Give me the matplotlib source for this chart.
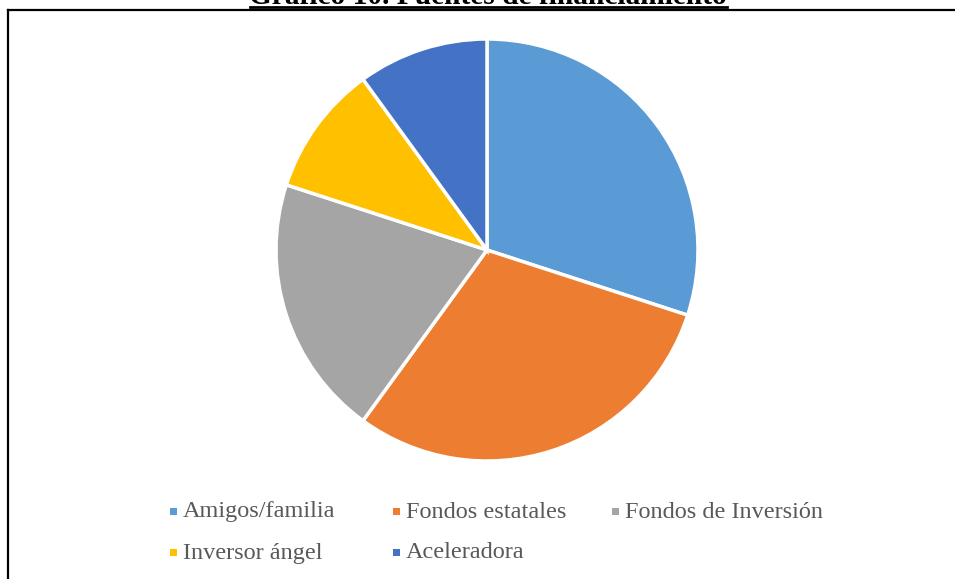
import matplotlib
matplotlib.use("Agg")
import matplotlib.pyplot as plt
from matplotlib.patches import Rectangle
from matplotlib.lines import Line2D

# Data
categories = ["Amigos/familia", "Fondos estatales", "Fondos de Inversión",
              "Inversor ángel", "Aceleradora"]
shares = [30, 30, 20, 10, 10]
colors = ["#5B9BD5", "#ED7D31", "#A5A5A5", "#FFC000", "#4472C4"]
title = "Gráfico 10. Fuentes de financiamiento"

W, H = 955, 579
fig = plt.figure(figsize=(W / 100, H / 100), dpi=100)
fig.patch.set_facecolor("white")

def fx(px):
    return px / W

def fy(py):
    return 1 - py / H

# Pie: centre (487, 250), radius about 210 px
cx, cy, r = 487, 250, 211
ax = fig.add_axes([fx(cx - r), fy(cy + r), 2 * r / W, 2 * r / H])
ax.pie(shares, colors=colors, startangle=90, counterclock=False,
       radius=1.0, wedgeprops=dict(edgecolor="white", linewidth=2.5))
ax.set_xlim(-1, 1)
ax.set_ylim(-1, 1)
ax.set_aspect("auto")
ax.axis("off")

# Chart border (left and top edges visible)
fig.add_artist(Line2D([fx(8), fx(8)], [fy(10), 0], color="black", lw=1.6,
                      transform=fig.transFigure))
fig.add_artist(Line2D([fx(8), fx(960)], [fy(10), fy(10)], color="black",
                      lw=1.6, transform=fig.transFigure))

# Title, running off the top edge, bold and underlined
fig.text(fx(488), fy(4.5), title, ha="center", va="baseline",
         fontfamily="Liberation Serif", fontweight="bold", fontsize=21.2,
         color="black")
fig.add_artist(Line2D([fx(250), fx(727)], [fy(6.8), fy(6.8)], color="black",
                      lw=2.0, transform=fig.transFigure))

# Legend, laid out in rows of three
col_x = [170, 393, 612]
row_y = [511, 552]
for i, (name, c) in enumerate(zip(categories, colors)):
    mx = col_x[i % 3]
    my = row_y[i // 3]
    fig.add_artist(Rectangle((fx(mx), fy(my + 4)), 7 / W, 7 / H,
                             facecolor=c, edgecolor="none",
                             transform=fig.transFigure))
    fig.text(fx(mx + 13), fy(my + 1), name, ha="left", va="center",
             fontfamily="Liberation Serif", fontsize=17.5, color="#595959")

fig.savefig("out.png", dpi=100, facecolor="white")
